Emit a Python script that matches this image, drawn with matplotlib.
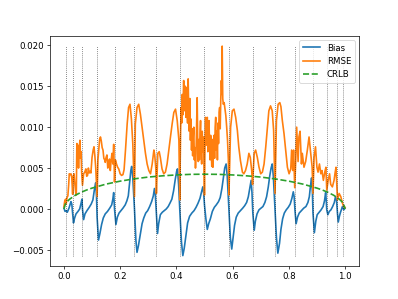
import numpy as np
import matplotlib
matplotlib.use("Agg")
import matplotlib.pyplot as plt

# positions of the dotted vertical lines
knots = [0.008, 0.031, 0.066, 0.118, 0.180, 0.251, 0.329, 0.412, 0.500,
         0.587, 0.671, 0.751, 0.821, 0.886, 0.935, 0.973, 0.993]

# bias (x, value)
bias_pts = [
    (0.000, 0.0001), (0.004, -0.0003), (0.008, -0.0002),
    (0.012, -0.0004), (0.018, 0.0001), (0.025, 0.0009), (0.028, 0.0006), (0.031, -0.0006), (0.034, -0.0017),
    (0.038, -0.0011), (0.043, -0.0006), (0.050, -0.0003), (0.056, 0.0000), (0.061, 0.0007), (0.064, 0.0012),
    (0.066, 0.0000), (0.070, -0.0013),
    (0.075, -0.0006), (0.082, -0.0002), (0.090, 0.0002), (0.097, 0.0006), (0.103, 0.0011), (0.109, 0.0025),
    (0.113, 0.0032), (0.116, 0.0015), (0.118, -0.0010), (0.123, -0.0038),
    (0.128, -0.0030), (0.134, -0.0019), (0.140, -0.0011), (0.147, -0.0006), (0.155, -0.0003), (0.163, 0.0001),
    (0.170, 0.0005), (0.174, 0.0012), (0.177, 0.0020), (0.180, 0.0000), (0.185, -0.0019),
    (0.190, -0.0010), (0.196, -0.0005), (0.203, -0.0002), (0.210, 0.0001), (0.218, 0.0005), (0.224, 0.0010),
    (0.229, 0.0016), (0.234, 0.0033), (0.238, 0.0047), (0.241, 0.0052), (0.245, 0.0038), (0.251, 0.0000),
    (0.256, -0.0038), (0.260, -0.0053),
    (0.265, -0.0045), (0.272, -0.0030), (0.278, -0.0018), (0.284, -0.0011), (0.291, -0.0005), (0.298, -0.0002),
    (0.305, 0.0003), (0.312, 0.0009), (0.318, 0.0016), (0.322, 0.0025), (0.325, 0.0018), (0.329, -0.0005),
    (0.333, -0.0030),
    (0.337, -0.0018), (0.343, -0.0007), (0.350, -0.0004), (0.357, -0.0002), (0.364, 0.0000), (0.371, 0.0003),
    (0.377, 0.0007), (0.384, 0.0012), (0.390, 0.0022), (0.396, 0.0036), (0.401, 0.0046), (0.404, 0.0049),
    (0.408, 0.0030), (0.412, 0.0000), (0.418, -0.0040), (0.423, -0.0057),
    (0.428, -0.0048), (0.433, -0.0035), (0.440, -0.0017), (0.447, -0.0009), (0.455, -0.0005), (0.463, -0.0002),
    (0.470, 0.0002), (0.477, 0.0007), (0.484, 0.0013), (0.489, 0.0020), (0.494, 0.0027), (0.497, 0.0020),
    (0.500, 0.0005), (0.505, -0.0012), (0.510, -0.0025),
    (0.515, -0.0018), (0.521, -0.0012), (0.528, -0.0003), (0.535, 0.0002), (0.542, 0.0005), (0.550, 0.0009),
    (0.556, 0.0014), (0.562, 0.0025), (0.567, 0.0038), (0.572, 0.0050), (0.577, 0.0055), (0.581, 0.0040),
    (0.587, 0.0000), (0.592, -0.0035), (0.597, -0.0049),
    (0.602, -0.0035), (0.607, -0.0020), (0.613, -0.0010), (0.620, -0.0005), (0.628, -0.0002), (0.636, 0.0001),
    (0.643, 0.0004), (0.650, 0.0008), (0.656, 0.0015), (0.661, 0.0025), (0.666, 0.0035), (0.669, 0.0020),
    (0.672, -0.0005), (0.677, -0.0026),
    (0.681, -0.0015), (0.687, -0.0006), (0.694, -0.0001), (0.701, 0.0001), (0.708, 0.0003), (0.715, 0.0008),
    (0.721, 0.0015), (0.727, 0.0027), (0.732, 0.0040), (0.737, 0.0050), (0.741, 0.0055), (0.745, 0.0040),
    (0.751, 0.0000), (0.756, -0.0035), (0.761, -0.0054),
    (0.767, -0.0042), (0.772, -0.0025), (0.778, -0.0012), (0.784, -0.0005), (0.791, -0.0001), (0.798, 0.0002),
    (0.805, 0.0006), (0.811, 0.0013), (0.816, 0.0021), (0.819, 0.0015), (0.822, -0.0002), (0.826, -0.0018),
    (0.831, -0.0010), (0.837, -0.0005), (0.845, -0.0002), (0.853, 0.0001), (0.861, 0.0003), (0.868, 0.0008),
    (0.873, 0.0015), (0.877, 0.0028), (0.881, 0.0038), (0.884, 0.0020), (0.886, -0.0005), (0.891, -0.0029),
    (0.896, -0.0015), (0.901, -0.0007), (0.908, -0.0004), (0.915, -0.0001), (0.922, 0.0003), (0.927, 0.0010),
    (0.931, 0.0020), (0.933, 0.0012), (0.935, -0.0001), (0.939, -0.0007),
    (0.944, -0.0003), (0.950, -0.0001), (0.956, 0.0003), (0.962, 0.0008), (0.966, 0.0015), (0.970, 0.0010),
    (0.973, -0.0005), (0.976, -0.0016),
    (0.980, -0.0009), (0.984, -0.0004), (0.988, 0.0000), (0.991, 0.0003), (0.993, 0.0001), (0.996, -0.0001),
    (1.000, 0.0001),
]

# rmse (x, value)
rmse_pts = [
    (0.000, 0.0003), (0.003, 0.0010), (0.006, 0.0012), (0.008, 0.0006), (0.011, 0.0014), (0.014, 0.0016),
    (0.017, 0.0030), (0.019, 0.0043), (0.022, 0.0042), (0.025, 0.0043), (0.028, 0.0038), (0.031, 0.0018),
    (0.033, 0.0040), (0.036, 0.0043), (0.039, 0.0030), (0.042, 0.0020), (0.044, 0.0017), (0.046, 0.0080),
    (0.048, 0.0060), (0.050, 0.0078), (0.052, 0.0050), (0.054, 0.0072), (0.057, 0.0084), (0.059, 0.0062),
    (0.061, 0.0070), (0.063, 0.0045), (0.066, 0.0029),
    (0.070, 0.0043), (0.074, 0.0045), (0.078, 0.0049), (0.081, 0.0040), (0.084, 0.0041), (0.087, 0.0050),
    (0.090, 0.0044), (0.093, 0.0046), (0.096, 0.0044), (0.100, 0.0063), (0.104, 0.0072), (0.107, 0.0076),
    (0.110, 0.0065), (0.113, 0.0051), (0.118, 0.0015),
    (0.121, 0.0060), (0.124, 0.0073), (0.127, 0.0085), (0.130, 0.0088), (0.133, 0.0083), (0.136, 0.0075),
    (0.139, 0.0072), (0.142, 0.0062), (0.145, 0.0060), (0.147, 0.0057), (0.150, 0.0063), (0.153, 0.0066),
    (0.156, 0.0050), (0.159, 0.0055), (0.162, 0.0061), (0.165, 0.0047), (0.168, 0.0060), (0.171, 0.0068),
    (0.174, 0.0055), (0.177, 0.0079), (0.180, 0.0033),
    (0.183, 0.0060), (0.187, 0.0055), (0.191, 0.0051), (0.195, 0.0049), (0.200, 0.0043), (0.205, 0.0041),
    (0.210, 0.0042), (0.214, 0.0048), (0.219, 0.0072), (0.225, 0.0104), (0.230, 0.0124), (0.235, 0.0128),
    (0.240, 0.0110), (0.245, 0.0080), (0.251, 0.0015),
    (0.254, 0.0104), (0.260, 0.0124), (0.266, 0.0128), (0.272, 0.0116), (0.278, 0.0100), (0.284, 0.0084),
    (0.290, 0.0068), (0.296, 0.0055), (0.302, 0.0047), (0.308, 0.0043), (0.314, 0.0055), (0.320, 0.0072),
    (0.323, 0.0066), (0.327, 0.0049), (0.329, 0.0019),
    (0.334, 0.0068), (0.339, 0.0070), (0.343, 0.0063), (0.349, 0.0049), (0.355, 0.0043), (0.361, 0.0045),
    (0.367, 0.0055), (0.373, 0.0072), (0.379, 0.0088), (0.385, 0.0104), (0.391, 0.0118), (0.397, 0.0122),
    (0.403, 0.0108), (0.409, 0.0084), (0.412, 0.0011),
    (0.415, 0.0095), (0.417, 0.0124), (0.419, 0.0105), (0.421, 0.0140), (0.423, 0.0115), (0.426, 0.0157),
    (0.428, 0.0120), (0.430, 0.0138), (0.432, 0.0150), (0.434, 0.0112), (0.436, 0.0148), (0.438, 0.0118),
    (0.440, 0.0105), (0.442, 0.0159), (0.444, 0.0120), (0.446, 0.0095), (0.448, 0.0135), (0.450, 0.0084),
    (0.452, 0.0110), (0.454, 0.0072), (0.456, 0.0098), (0.458, 0.0065), (0.460, 0.0088), (0.462, 0.0100),
    (0.464, 0.0060), (0.466, 0.0075), (0.468, 0.0050), (0.470, 0.0068), (0.472, 0.0105), (0.474, 0.0136),
    (0.476, 0.0080), (0.478, 0.0058), (0.480, 0.0085), (0.482, 0.0060), (0.484, 0.0092), (0.486, 0.0108),
    (0.488, 0.0072), (0.490, 0.0055), (0.492, 0.0095), (0.494, 0.0070), (0.496, 0.0088), (0.498, 0.0060),
    (0.500, 0.0017),
    (0.502, 0.0085), (0.504, 0.0112), (0.506, 0.0078), (0.508, 0.0100), (0.510, 0.0112), (0.512, 0.0070),
    (0.514, 0.0095), (0.516, 0.0108), (0.518, 0.0080), (0.520, 0.0060), (0.522, 0.0090), (0.524, 0.0070),
    (0.526, 0.0052), (0.528, 0.0085), (0.530, 0.0051), (0.532, 0.0075), (0.534, 0.0090), (0.536, 0.0062),
    (0.538, 0.0100), (0.540, 0.0112), (0.542, 0.0072), (0.544, 0.0095), (0.546, 0.0060), (0.548, 0.0105),
    (0.550, 0.0080), (0.552, 0.0118), (0.554, 0.0124), (0.556, 0.0098), (0.558, 0.0135), (0.560, 0.0157),
    (0.562, 0.0140), (0.563, 0.0199), (0.565, 0.0135), (0.567, 0.0128), (0.570, 0.0130), (0.573, 0.0122),
    (0.576, 0.0114), (0.579, 0.0100), (0.582, 0.0084), (0.585, 0.0060), (0.587, 0.0017),
    (0.593, 0.0100), (0.599, 0.0120), (0.605, 0.0122), (0.611, 0.0112), (0.617, 0.0096), (0.622, 0.0076),
    (0.628, 0.0059), (0.635, 0.0045), (0.640, 0.0043), (0.646, 0.0047), (0.652, 0.0055), (0.658, 0.0068),
    (0.663, 0.0063), (0.668, 0.0047), (0.671, 0.0030),
    (0.677, 0.0068), (0.682, 0.0072), (0.688, 0.0063), (0.694, 0.0051), (0.700, 0.0043), (0.706, 0.0045),
    (0.712, 0.0055), (0.718, 0.0076), (0.724, 0.0100), (0.729, 0.0120), (0.735, 0.0126), (0.741, 0.0120),
    (0.746, 0.0096), (0.751, 0.0019),
    (0.756, 0.0108), (0.762, 0.0128), (0.768, 0.0130), (0.772, 0.0125), (0.777, 0.0108), (0.783, 0.0092),
    (0.789, 0.0072), (0.795, 0.0051), (0.801, 0.0043), (0.807, 0.0049), (0.810, 0.0072), (0.814, 0.0047),
    (0.817, 0.0072), (0.821, 0.0026),
    (0.825, 0.0063), (0.828, 0.0100), (0.833, 0.0058), (0.836, 0.0088), (0.840, 0.0095), (0.845, 0.0055),
    (0.848, 0.0068), (0.854, 0.0051), (0.860, 0.0058), (0.866, 0.0072), (0.872, 0.0088), (0.878, 0.0068),
    (0.883, 0.0051), (0.886, 0.0019),
    (0.890, 0.0063), (0.895, 0.0076), (0.900, 0.0051), (0.904, 0.0045), (0.909, 0.0055), (0.914, 0.0043),
    (0.918, 0.0047), (0.923, 0.0035), (0.928, 0.0045), (0.932, 0.0051), (0.935, 0.0023),
    (0.940, 0.0035), (0.945, 0.0043), (0.949, 0.0030), (0.955, 0.0027), (0.961, 0.0035), (0.965, 0.0045),
    (0.968, 0.0051), (0.973, 0.0011),
    (0.979, 0.0019), (0.985, 0.0015), (0.991, 0.0007), (0.995, 0.0003), (1.000, 0.0002),
]

# crlb (x, value)
crlb_pts = [
    (0.000, 0.0000), (0.005, 0.0006), (0.010, 0.00085), (0.020, 0.00119), (0.040, 0.00167),
    (0.060, 0.00202), (0.080, 0.00231), (0.100, 0.00255), (0.150, 0.00304), (0.200, 0.00340),
    (0.250, 0.00368), (0.300, 0.00390), (0.350, 0.00405), (0.400, 0.00416), (0.450, 0.00423),
    (0.500, 0.00425), (0.550, 0.00423), (0.600, 0.00416), (0.650, 0.00405), (0.700, 0.00390),
    (0.750, 0.00368), (0.800, 0.00340), (0.850, 0.00304), (0.900, 0.00255), (0.920, 0.00231),
    (0.940, 0.00202), (0.960, 0.00167), (0.980, 0.00119), (0.990, 0.00085), (0.995, 0.0006),
    (1.000, 0.0000),
]

bias_x, bias_y = np.array(bias_pts).T
rmse_x, rmse_y = np.array(rmse_pts).T
crlb_x, crlb_y = np.array(crlb_pts).T

# default 6.4x4.8 figure, rendered small so that it comes out 399x299
fig = plt.figure(figsize=(6.4, 4.8), dpi=62.34)
plt.plot(bias_x, bias_y, lw=1.9, label="Bias")
plt.plot(rmse_x, rmse_y, lw=1.9, label="RMSE")
plt.plot(crlb_x, crlb_y, "--", lw=1.9, label="CRLB")
plt.vlines(knots, bias_y.min(), rmse_y.max(), colors="k", linestyles=":", linewidth=0.9, alpha=0.7)
plt.legend(loc="upper right")
plt.savefig("out.png", dpi=62.34)
